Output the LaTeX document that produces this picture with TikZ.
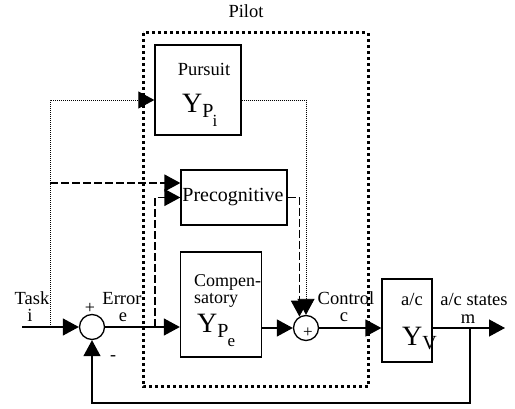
\documentclass[tikz,border=0pt]{standalone}
\usepackage{fontspec}
\setmainfont{Liberation Serif}
\usepackage{tikz}
\usetikzlibrary{arrows.meta}
\newcommand\Ytf[2]{{\fontsize{28}{28}\selectfont Y}\raisebox{-5pt}{\fontsize{20}{20}\selectfont #1\kern-1pt\raisebox{-9pt}{\fontsize{17}{17}\selectfont #2}}}

\begin{document}
\begin{tikzpicture}[x=1pt,y=-1pt,
  blk/.style={draw,line width=1.3pt,inner sep=0pt},
  sumnode/.style={circle,draw,line width=1.3pt,minimum size=25pt,inner sep=0pt},
  lbl/.style={font=\fontsize{18.5}{18.5}\selectfont,inner sep=0pt,anchor=base},
  sig/.style={line width=1.3pt,-{Triangle[length=16pt,width=17pt]}},
  dsh/.style={sig,dash pattern=on 8pt off 3pt},
  dtt/.style={sig,line width=0.9pt,dash pattern=on 1pt off 1pt}]
\useasboundingbox (0,0) rectangle (515,409);
\node[blk,minimum width=86pt,minimum height=90pt] (Pu) at (198,90) {};
\node[blk,minimum width=106pt,minimum height=55pt] (Pr) at (234,197.5) {};
\node[blk,minimum width=81pt,minimum height=105pt] (Co) at (221,304.5) {};
\node[blk,minimum width=50pt,minimum height=83pt] (Ac) at (407,320.5) {};
\node[sumnode] (S1) at (92,327) {};
\node[sumnode] (S2) at (306,328) {};
\coordinate (in) at (22,327);
\coordinate (out) at (505,328);
\coordinate (fb) at (470,328);
\coordinate (tap) at (50,327);
\coordinate (tap2) at (50,183);
\coordinate (tap3) at (155,327);
% pilot
\draw[line width=3pt,dash pattern=on 3pt off 3pt] (143,33) rectangle (368,387);
\node[lbl] (pilot) at (246,18) {Pilot};
% block texts
\node[lbl] (pursuit) at (204,76) {Pursuit};
\node[anchor=base west,inner sep=0pt] (ypi) at (182,113) {\Ytf{P}{i}};
\node[lbl,font=\fontsize{20}{20}\selectfont] (precog) at (233,202) {Precognitive};
\node[lbl,anchor=base west,font=\fontsize{18}{18}\selectfont] (compen) at (194,287) {Compen-};
\node[lbl,anchor=base west,font=\fontsize{18}{18}\selectfont] (satory) at (194,304) {satory};
\node[anchor=base west,inner sep=0pt] (ype) at (197,333) {\Ytf{P}{e}};
\node[lbl] (acname) at (412,306) {a/c};
\node[anchor=base west,inner sep=0pt] (yv) at (402,345) {\Ytf{V}{}};
% signal labels
\node[lbl] (task) at (32,305) {Task};
\node[lbl] (tasksym) at (30,322) {i};
\node[lbl] (err) at (122,305) {Error};
\node[lbl] (errsym) at (123,322) {e};
\node[lbl] (ctl) at (346,305) {Control};
\node[lbl] (ctlsym) at (344,322) {c};
\node[lbl] (states) at (474,306) {a/c states};
\node[lbl] (statesym) at (468,324) {m};
\node[font=\fontsize{18}{18}\selectfont,inner sep=0pt] (plus1) at (90,308) {+};
\node[font=\fontsize{18}{18}\selectfont,inner sep=0pt] (minus1) at (113,358) {-};
\node[font=\fontsize{17}{17}\selectfont,inner sep=0pt] (plus2) at (308,333) {+};
% main loop
\draw[sig] (in) -- (S1.west);
\draw[sig] (S1.east) -- (S1 -| Co.west);
\draw[sig] (Co.east |- S2) -- (S2.west);
\draw[sig] (S2.east) -- (S2 -| Ac.west);
\draw[sig] (S2 -| Ac.east) -- (out);
\draw[sig] (fb) -- ++(0,75) -| (S1.south);
% pursuit path
\draw[dtt] (tap) |- ([yshift=-10pt]Pu.west);
\draw[dtt] ([yshift=-10pt]Pu.east) -| (S2.north);
% precognitive path
\draw[dsh] (tap2) -- (tap2 -| Pr.west);
\draw[dsh] (tap3) |- (Pr.west);
\draw[dsh] (Pr.east) -| (S2.120);
\end{tikzpicture}
\end{document}
